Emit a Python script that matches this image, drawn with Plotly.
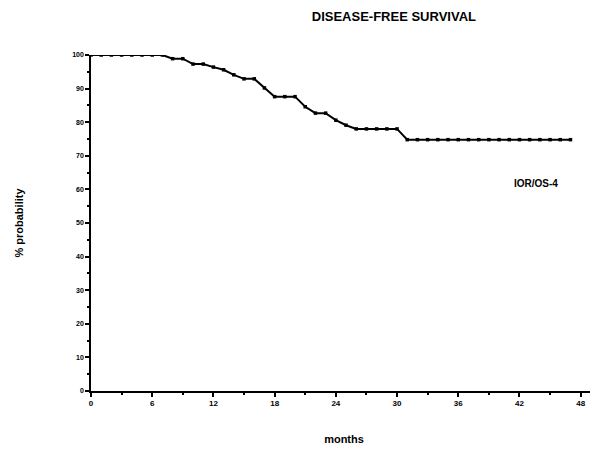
import plotly.graph_objects as go

months = list(range(0, 48))
survival = [100, 100, 100, 100, 100, 100, 100, 100,
            98.9, 98.9, 97.3, 97.3, 96.4, 95.6, 94.1, 92.9, 92.9, 90.2,
            87.6, 87.6, 87.6, 84.6, 82.7, 82.7, 80.6, 79.1,
            78, 78, 78, 78, 78] + [74.8] * 17

x_ticks = [0, 6, 12, 18, 24, 30, 36, 42, 48]
y_ticks = [0, 10, 20, 30, 40, 50, 60, 70, 80, 90, 100]

fig = go.Figure()
fig.add_trace(go.Scatter(
    x=months, y=survival, mode="lines+markers",
    line=dict(color="black", width=2),
    marker=dict(symbol="square", size=3.5, color="black"),
    showlegend=False,
))

font = "Liberation Sans, Arial, sans-serif"
fig.update_layout(
    width=590, height=445,
    margin=dict(l=83, r=1, t=47, b=62),
    paper_bgcolor="white", plot_bgcolor="white",
    font=dict(family=font, color="black"),
    title=dict(text="<b>DISEASE-FREE SURVIVAL</b>", x=0.654, xanchor="center",
               y=0.982, yanchor="middle", font=dict(size=13, family=font)),
)
fig.update_xaxes(
    range=[0, 49.6], tickvals=x_ticks, ticktext=[f"<b>{v}</b>" for v in x_ticks],
    showgrid=False, zeroline=False, showline=True, linecolor="black", linewidth=1.5,
    ticks="outside", ticklen=4, tickwidth=1.5, tickcolor="black",
    minor=dict(dtick=3, ticks="outside", ticklen=2, tickwidth=1.5, tickcolor="black", showgrid=False),
    tickfont=dict(size=8, family=font),
    title=dict(text="<b>months</b>", font=dict(size=11, family=font), standoff=28),
)
fig.update_yaxes(
    range=[0, 100], tickvals=y_ticks, ticktext=[f"<b>{v}</b>" for v in y_ticks],
    showgrid=False, zeroline=False, showline=True, linecolor="black", linewidth=1.5,
    ticks="outside", ticklen=4, tickwidth=1.5, tickcolor="black",
    minor=dict(dtick=5, ticks="outside", ticklen=2, tickwidth=1.5, tickcolor="black", showgrid=False),
    tickfont=dict(size=7, family=font),
    title=dict(text="<b>% probability</b>", font=dict(size=11, family=font), standoff=46),
)
fig.add_annotation(x=0.927, y=0.619, xref="paper", yref="paper", xanchor="right",
                   text="<b>IOR/OS-4</b>", showarrow=False, font=dict(size=10, family=font))
fig.write_html("out.html")
